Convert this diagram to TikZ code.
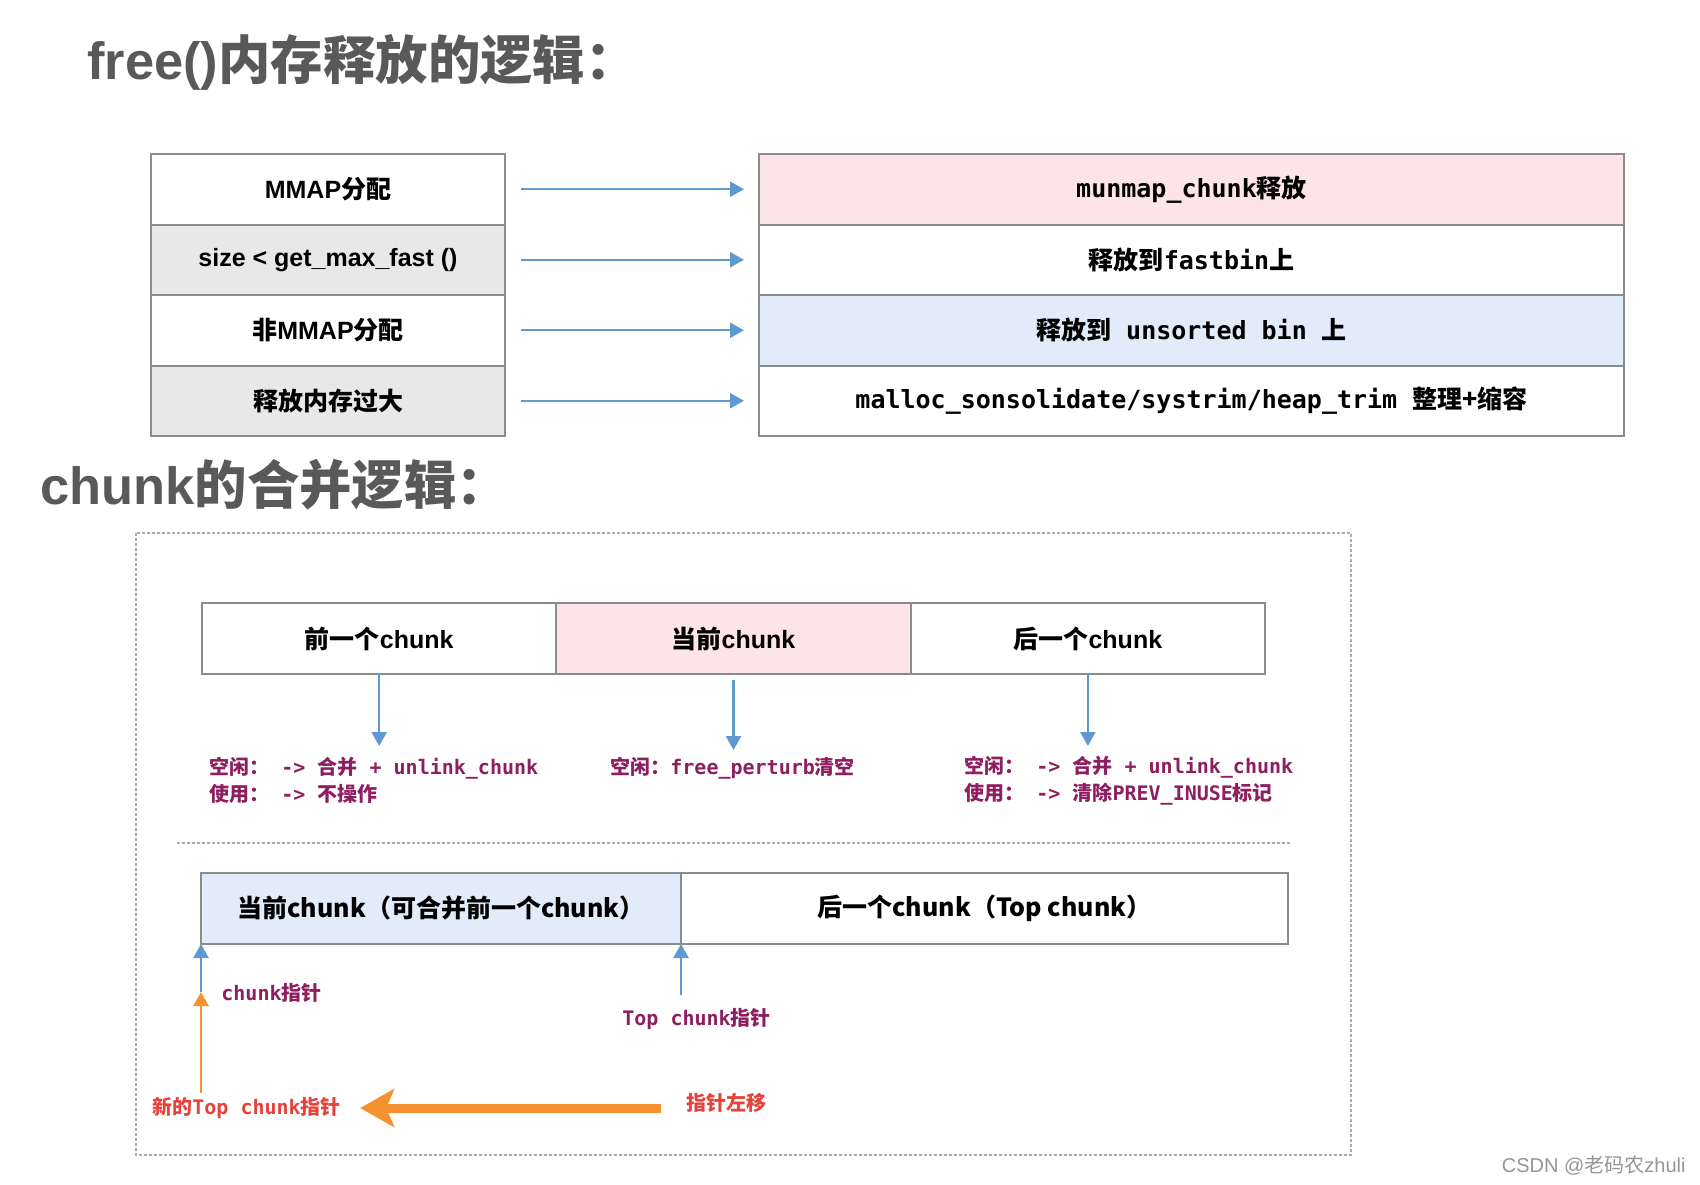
\documentclass[tikz,border=0pt]{standalone}
\usepackage{fontspec}
\setmainfont{Liberation Sans}
\newfontfamily\hei{Noto Sans CJK SC}
\newfontfamily\mono{DejaVu Sans Mono}
\usetikzlibrary{arrows.meta,positioning}

\definecolor{titlegray}{RGB}{89,89,89}
\definecolor{boxline}{RGB}{140,140,140}
\definecolor{rowgray}{RGB}{232,232,232}
\definecolor{rowpink}{RGB}{253,228,232}
\definecolor{rowblue}{RGB}{225,235,250}
\definecolor{arrblue}{RGB}{96,153,208}
\definecolor{arrorange}{RGB}{245,146,47}
\definecolor{txtpurple}{RGB}{142,30,96}
\definecolor{txtred}{RGB}{232,65,58}
\definecolor{dashgray}{RGB}{170,170,170}
\definecolor{wmgray}{RGB}{150,150,150}

\newcommand\zh[1]{{\hei #1}}

\tikzset{
  title/.style={inner sep=0pt, text=titlegray, font=\bfseries\fontsize{26.2}{30}\selectfont},
  cell/.style={draw=boxline, line width=1pt, inner sep=0pt, outer sep=0pt,
    minimum height=35.25pt, font=\bfseries\fontsize{12.5}{15}\selectfont},
  lcell/.style={cell, minimum width=177pt},
  rcell/.style={cell, minimum width=432.5pt, font=\mono\bfseries\fontsize{12.5}{15}\selectfont},
  ccell/.style={cell, minimum height=35.5pt, minimum width=177.17pt},
  note/.style={inner sep=0pt, align=left, text=txtpurple,
    font=\mono\bfseries\fontsize{10}{13.5}\selectfont},
  bluearr/.style={draw=arrblue, line width=1.2pt, -{Triangle[length=7pt,width=7.5pt]}},
  orangearr/.style={draw=arrorange, line width=1.2pt, -{Triangle[length=7pt,width=7.5pt]}},
  bigarrow/.style={draw=arrorange, line width=4.5pt, -{Stealth[length=17pt,width=19pt,inset=4pt]}},
  dashbox/.style={draw=dashgray, line width=0.8pt, dash pattern=on 1.5pt off 1pt}
}

\begin{document}
\begin{tikzpicture}[x=0.5pt, y=-0.5pt]
  \useasboundingbox (0,0) rectangle (1700,1184);
  \fill[white] (0,0) rectangle (1700,1184);

  % free()
  \node[title, anchor=west] (t1) at (87,62) {free()\zh{内存释放的逻辑：}};

  \node[lcell, anchor=north west] (mmap) at (151,154) {MMAP\zh{分配}};
  \node[lcell, fill=rowgray, below=0pt of mmap] (fast) {size < get\_max\_fast ()};
  \node[lcell, below=0pt of fast] (nommap) {\zh{非}MMAP\zh{分配}};
  \node[lcell, fill=rowgray, below=0pt of nommap] (big) {\zh{释放内存过大}};

  \node[rcell, fill=rowpink, anchor=north west] (unmap) at (759,154) {munmap\_chunk\zh{释放}};
  \node[rcell, below=0pt of unmap] (tofast) {\zh{释放到}fastbin\zh{上}};
  \node[rcell, fill=rowblue, below=0pt of tofast] (tounsort) {\zh{释放到} unsorted bin \zh{上}};
  \node[rcell, below=0pt of tounsort] (trim) {malloc\_sonsolidate/systrim/heap\_trim \zh{整理+缩容}};

  \foreach \a/\b in {mmap/unmap, fast/tofast, nommap/tounsort, big/trim}
    \draw[bluearr, shorten <=8pt, shorten >=7.5pt] (\a) -- (\b);

  % chunk
  \node[title, anchor=west] (t2) at (40,485) {chunk\zh{的合并逻辑：}};
  \draw[dashbox] (136,533) rectangle (1351,1155);

  \node[ccell, anchor=north west] (prev) at (202,603) {\zh{前一个}chunk};
  \node[ccell, fill=rowpink, right=0pt of prev] (cur) {\zh{当前}chunk};
  \node[ccell, right=0pt of cur] (next) {\zh{后一个}chunk};

  \draw[bluearr] (prev.south) -- ++(0,72);
  \draw[bluearr] ([yshift=-3pt]cur.south) -- ++(0,70);
  \draw[bluearr] (next.south) -- ++(0,72);

  \node[note, anchor=west] (prevnote) at (209,780.5)
    {\zh{空闲：} -> \zh{合并} + unlink\_chunk\\\zh{使用：} -> \zh{不操作}};
  \node[note, anchor=west] (curnote) at (610,768) {\zh{空闲：}free\_perturb\zh{清空}};
  \node[note, anchor=west] (nextnote) at (964,780.5)
    {\zh{空闲：} -> \zh{合并} + unlink\_chunk\\\zh{使用：} -> \zh{清除}PREV\_INUSE\zh{标记}};

  \draw[dashbox, line width=1pt] (177,843) -- (1290,843);

  \node[ccell, fill=rowblue, minimum width=240pt, anchor=north west, font=\hei\bfseries\fontsize{12.5}{15}\selectfont]
    (merged) at (201,873) {当前chunk（可合并前一个chunk）};
  \node[ccell, minimum width=303.5pt, right=0pt of merged, font=\hei\bfseries\fontsize{12.5}{15}\selectfont]
    (topc) {后一个chunk（Top chunk）};

  \coordinate (pmid) at ([yshift=-24pt]merged.south west);
  \coordinate (pbase) at ([yshift=-74.5pt]merged.south west);
  \draw[orangearr] (pbase) -- (pmid);
  \draw[bluearr] (pmid) -- (merged.south west);
  \node[note, anchor=west] (cptr) at (221,993) {chunk\zh{指针}};

  \coordinate (tbase) at ([yshift=-25.5pt]merged.south east);
  \draw[bluearr] (tbase) -- (merged.south east);
  \node[note, anchor=west] (tptr) at (622,1019) {Top chunk\zh{指针}};

  \node[note, text=txtred, anchor=west] (newptr) at (152,1108) {\zh{新的}Top chunk\zh{指针}};
  \node[note, text=txtred, anchor=west] (shift) at (686,1103) {\zh{指针左移}};
  \draw[bigarrow, shorten <=12.5pt, shorten >=9.5pt] (newptr.east -| shift.west) -- (newptr.east);

  \node[anchor=east, inner sep=0pt, text=wmgray, font=\fontsize{10}{12}\selectfont] (wm) at (1686,1165)
    {CSDN @\zh{老码农}zhuli};
\end{tikzpicture}
\end{document}
